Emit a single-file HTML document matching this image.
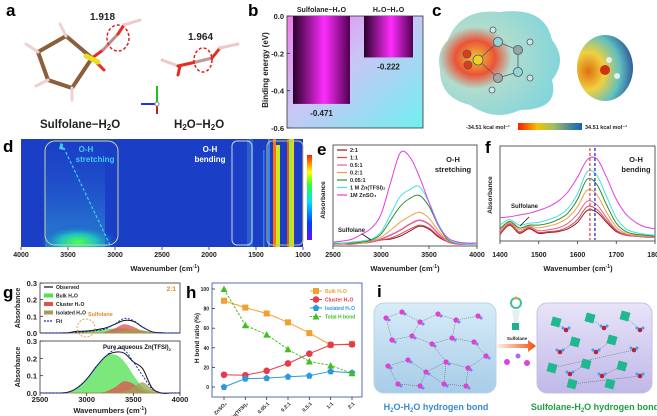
<!DOCTYPE html>
<html><head><meta charset="utf-8"><style>
body{margin:0;background:#fff;}
svg{display:block;font-family:"Liberation Sans",Arial,sans-serif;}
.lab{font-size:17px;font-weight:bold;fill:#000}
</style></head><body>
<svg id="fig" width="657" height="416" viewBox="0 0 657 416" xmlns="http://www.w3.org/2000/svg">
<defs>
<clipPath id="dclip"><rect x="21" y="139" width="282" height="108"/></clipPath>
<linearGradient id="bbg" x1="0" y1="0" x2="1" y2="1"><stop offset="0" stop-color="#f07df0"/><stop offset="0.45" stop-color="#c9c6f5"/><stop offset="1" stop-color="#6ff0f0"/></linearGradient>
<linearGradient id="bar" x1="0" y1="0" x2="1" y2="0"><stop offset="0" stop-color="#2a002a"/><stop offset="0.55" stop-color="#ff2cff"/><stop offset="1" stop-color="#500050"/></linearGradient>
<linearGradient id="cbar" x1="0" y1="0" x2="1" y2="0"><stop offset="0" stop-color="#ff1a00"/><stop offset="0.3" stop-color="#f5c000"/><stop offset="0.55" stop-color="#a0c060"/><stop offset="1" stop-color="#1060c0"/></linearGradient>
<linearGradient id="dbar" x1="0" y1="1" x2="0" y2="0"><stop offset="0" stop-color="#6010ff"/><stop offset="0.2" stop-color="#0040ff"/><stop offset="0.45" stop-color="#00e0ff"/><stop offset="0.65" stop-color="#30ff30"/><stop offset="0.8" stop-color="#ffff00"/><stop offset="1" stop-color="#ff2000"/></linearGradient>
<radialGradient id="blob1" cx="0.3" cy="0.45" r="0.75"><stop offset="0" stop-color="#f0c020"/><stop offset="0.22" stop-color="#e84020"/><stop offset="0.4" stop-color="#a8d8c8"/><stop offset="1" stop-color="#70d0d8"/></radialGradient>
<radialGradient id="blob2" cx="0.2" cy="0.55" r="0.95"><stop offset="0" stop-color="#e07010"/><stop offset="0.3" stop-color="#f0d040"/><stop offset="0.6" stop-color="#60c0c0"/><stop offset="1" stop-color="#102080"/></radialGradient>
<radialGradient id="dhot" cx="0.5" cy="0.5" r="0.5"><stop offset="0" stop-color="#50ff50"/><stop offset="0.45" stop-color="#20c0c0"/><stop offset="1" stop-color="#1a40c8" stop-opacity="0"/></radialGradient>
<linearGradient id="dstr" x1="0" y1="0" x2="0" y2="1"><stop offset="0" stop-color="#2a60d0" stop-opacity="0"/><stop offset="1" stop-color="#30a0d8" stop-opacity="0.7"/></linearGradient>
<linearGradient id="ibox1" x1="0" y1="0" x2="0" y2="1"><stop offset="0" stop-color="#d8ecf8"/><stop offset="1" stop-color="#a8cce8"/></linearGradient>
<linearGradient id="ibox2" x1="0" y1="0" x2="0" y2="1"><stop offset="0" stop-color="#e8e4f8"/><stop offset="1" stop-color="#c0b8e8"/></linearGradient>
<linearGradient id="arrow" x1="0" y1="0" x2="1" y2="0"><stop offset="0" stop-color="#fff0e0"/><stop offset="1" stop-color="#f05010"/></linearGradient>
</defs>

<!-- Panel a -->
<g>
<text class="lab" x="6" y="16">a</text>
<g stroke-linecap="round">
<path d="M38 52 L66 36 L92 58 L72 88 L48 80 Z" fill="none" stroke="#8b5e3c" stroke-width="4"/>
<line x1="92" y1="58" x2="103" y2="50" stroke="#e03020" stroke-width="3"/>
<line x1="92" y1="58" x2="104" y2="70" stroke="#e03020" stroke-width="3"/>
<line x1="86" y1="56" x2="98" y2="62" stroke="#e6e020" stroke-width="5"/>
<line x1="103" y1="50" x2="118" y2="34" stroke="#c08888" stroke-width="3"/>
<line x1="118" y1="34" x2="124" y2="25" stroke="#e03020" stroke-width="3"/>
<line x1="124" y1="25" x2="140" y2="20" stroke="#f0c8c8" stroke-width="3"/>
<line x1="38" y1="52" x2="26" y2="44" stroke="#f0d0d0" stroke-width="3"/>
<line x1="66" y1="36" x2="60" y2="24" stroke="#f0d0d0" stroke-width="3"/>
<line x1="72" y1="88" x2="72" y2="100" stroke="#f0d0d0" stroke-width="3"/>
<line x1="48" y1="80" x2="36" y2="86" stroke="#f0d0d0" stroke-width="3"/>
</g>
<ellipse cx="118" cy="38" rx="11" ry="13" fill="none" stroke="#e02020" stroke-width="1.5" stroke-dasharray="3,2"/>
<text x="90" y="20" font-size="10" font-weight="bold" fill="#222">1.918</text>
<g stroke-linecap="round">
<line x1="162" y1="60" x2="178" y2="66" stroke="#f0c8c8" stroke-width="3"/>
<line x1="178" y1="66" x2="196" y2="62" stroke="#e03020" stroke-width="3"/>
<line x1="180" y1="66" x2="178" y2="75" stroke="#e03020" stroke-width="3"/>
<line x1="196" y1="62" x2="212" y2="58" stroke="#c09898" stroke-width="3"/>
<line x1="212" y1="58" x2="220" y2="48" stroke="#e03020" stroke-width="3"/>
<line x1="220" y1="48" x2="238" y2="44" stroke="#f0c8c8" stroke-width="3"/>
</g>
<ellipse cx="203" cy="60" rx="9" ry="12" fill="none" stroke="#e02020" stroke-width="1.5" stroke-dasharray="3,2"/>
<text x="188" y="40" font-size="10" font-weight="bold" fill="#222">1.964</text>
<g>
<line x1="157" y1="104" x2="157" y2="86" stroke="#20c020" stroke-width="2"/>
<line x1="157" y1="104" x2="141" y2="104" stroke="#2030e0" stroke-width="2"/>
<line x1="157" y1="104" x2="157" y2="114" stroke="#c02020" stroke-width="2"/>
<circle cx="157" cy="104" r="2" fill="#fff" stroke="#888"/>
</g>
<text x="40" y="128" font-size="11.5" font-weight="bold" fill="#222">Sulfolane−H<tspan font-size="8" dy="2">2</tspan><tspan dy="-2">O</tspan></text>
<text x="174" y="128" font-size="11.5" font-weight="bold" fill="#222">H<tspan font-size="8" dy="2">2</tspan><tspan dy="-2">O−H</tspan><tspan font-size="8" dy="2">2</tspan><tspan dy="-2">O</tspan></text>
</g>

<!-- Panel b -->
<g>
<text class="lab" x="248" y="16">b</text>
<rect x="287" y="16" width="136" height="112" fill="url(#bbg)" stroke="#333" stroke-width="0.8"/>
<g id="bchart"></g>
<text x="268" y="70" transform="rotate(-90 268 70)" text-anchor="middle" font-size="8" font-weight="bold" fill="#222">Binding energy (eV)</text>
</g>

<!-- Panel c -->
<g>
<text class="lab" x="432" y="16">c</text>
<path d="M448 40 Q460 8 500 12 Q545 6 552 40 Q568 60 552 80 Q560 110 520 110 Q495 122 470 105 Q440 98 440 70 Q436 52 448 40Z" fill="url(#blob1)" opacity="0.9"/>
<g stroke="#556" stroke-width="0.8">
<line x1="478" y1="60" x2="498" y2="42"/><line x1="498" y1="42" x2="518" y2="50"/><line x1="518" y1="50" x2="518" y2="72"/><line x1="518" y1="72" x2="498" y2="78"/><line x1="498" y1="78" x2="478" y2="60"/>
<circle cx="467" cy="54" r="4" fill="#e83a10"/><circle cx="468" cy="65" r="4" fill="#e83a10"/><circle cx="478" cy="60" r="5" fill="#f0d020"/>
<circle cx="498" cy="42" r="4.5" fill="#8ed8d8"/><circle cx="518" cy="50" r="4.5" fill="#90a8a8"/><circle cx="518" cy="72" r="4.5" fill="#8ed8d8"/><circle cx="498" cy="78" r="4.5" fill="#a0a8a8"/>
<circle cx="493" cy="30" r="3" fill="#c8e8e8"/><circle cx="530" cy="42" r="3" fill="#c8e8e8"/><circle cx="530" cy="78" r="3" fill="#c8e8e8"/><circle cx="492" cy="90" r="3" fill="#c8e8e8"/>
</g>
<ellipse cx="605" cy="68" rx="28" ry="33" fill="url(#blob2)"/>
<circle cx="605" cy="70" r="5" fill="#d03010"/>
<circle cx="609" cy="60" r="3" fill="#e0f0f0"/><circle cx="617" cy="76" r="3" fill="#e0f0f0"/>
<rect x="518" y="123" width="64" height="7" fill="url(#cbar)"/>
<text x="466" y="129" font-size="5.5" font-weight="bold" fill="#222">-34.51 kcal mol⁻¹</text>
<text x="585" y="129" font-size="5.5" font-weight="bold" fill="#222">34.51 kcal mol⁻¹</text>
</g>

<!-- Panel d -->
<g>
<text class="lab" x="3" y="152">d</text>
<rect x="21" y="139" width="282" height="108" fill="#1a3ec6"/>
<g clip-path="url(#dclip)">
<rect x="45" y="139" width="60" height="108" fill="url(#dstr)"/>
<ellipse cx="78" cy="242" rx="42" ry="18" fill="url(#dhot)"/>
<rect x="247" y="139" width="6" height="108" fill="#2f7ad0" opacity="0.6"/>
<g>
<rect x="273" y="139" width="3" height="108" fill="#ff7010"/><rect x="276" y="145" width="4" height="102" fill="#c8e820"/>
<rect x="287" y="139" width="2" height="108" fill="#ff5010"/><rect x="289" y="139" width="3" height="108" fill="#90f040"/><rect x="292" y="139" width="2" height="108" fill="#f0d020"/>
<rect x="268" y="139" width="2" height="108" fill="#50a0ff" opacity="0.7"/>
<rect x="263" y="150" width="1.5" height="97" fill="#40c0ff" opacity="0.5"/>
</g>
</g>
<rect x="45" y="141" width="73" height="104" rx="10" fill="none" stroke="#c8d8a0" stroke-width="1"/>
<rect x="232" y="141" width="20" height="104" rx="5" fill="none" stroke="#c8d8e0" stroke-width="1"/>
<rect x="267" y="141" width="36" height="104" rx="5" fill="none" stroke="#c8c080" stroke-width="1"/>
<line x1="110" y1="245" x2="62" y2="144" stroke="#40d0f0" stroke-width="1.2" stroke-dasharray="3,2"/>
<polygon points="61,142 64,150 59,149" fill="#40d0f0"/>
<text x="86" y="152" text-anchor="middle" font-size="8" font-weight="bold" fill="#40c8f0">O-H</text>
<text x="95" y="162" text-anchor="middle" font-size="8" font-weight="bold" fill="#40c8f0">stretching</text>
<text x="210" y="152" text-anchor="middle" font-size="8" font-weight="bold" fill="#fff">O-H</text>
<text x="210" y="162" text-anchor="middle" font-size="8" font-weight="bold" fill="#fff">bending</text>
<rect x="307" y="155" width="5" height="85" fill="url(#dbar)"/>
<g id="dticks"></g>
<text x="165" y="271" text-anchor="middle" font-size="7.5" font-weight="bold" fill="#222">Wavenumber (cm<tspan font-size="5" dy="-3">-1</tspan><tspan dy="3">)</tspan></text>
</g>

<!-- Panel e -->
<g>
<text class="lab" x="317" y="155">e</text>
<rect x="333" y="145" width="144" height="101" fill="none" stroke="#333" stroke-width="0.8"/>
<g id="echart"></g>
<text x="325" y="200" transform="rotate(-90 325 200)" text-anchor="middle" font-size="6.5" font-weight="bold" fill="#222">Absorbance</text>
<text x="453" y="162" text-anchor="middle" font-size="7.5" font-weight="bold" fill="#222">O-H</text>
<text x="453" y="172" text-anchor="middle" font-size="7.5" font-weight="bold" fill="#222">stretching</text>
<text x="338" y="232" font-size="6" font-weight="bold" fill="#222">Sulfolane</text>
<line x1="362" y1="234" x2="371" y2="240" stroke="#111" stroke-width="0.8"/>
<text x="405" y="271" text-anchor="middle" font-size="7.5" font-weight="bold" fill="#222">Wavenumber (cm<tspan font-size="5" dy="-3">-1</tspan><tspan dy="3">)</tspan></text>
</g>

<!-- Panel f -->
<g>
<text class="lab" x="485" y="153">f</text>
<rect x="500" y="146" width="155" height="95" fill="none" stroke="#333" stroke-width="0.8"/>
<g id="fchart"></g>
<text x="492" y="195" transform="rotate(-90 492 195)" text-anchor="middle" font-size="6.5" font-weight="bold" fill="#222">Absorbance</text>
<text x="636" y="162" text-anchor="middle" font-size="7.5" font-weight="bold" fill="#222">O-H</text>
<text x="636" y="172" text-anchor="middle" font-size="7.5" font-weight="bold" fill="#222">bending</text>
<text x="511" y="208" font-size="6" font-weight="bold" fill="#222">Sulfolane</text>
<line x1="520" y1="226" x2="529" y2="217" stroke="#111" stroke-width="0.8"/>
<text x="578" y="271" text-anchor="middle" font-size="7.5" font-weight="bold" fill="#222">Wavenumber (cm<tspan font-size="5" dy="-3">-1</tspan><tspan dy="3">)</tspan></text>
</g>

<!-- Panel g -->
<g>
<text class="lab" x="3" y="298">g</text>
<rect x="40" y="283" width="140" height="50" fill="none" stroke="#333" stroke-width="0.8"/>
<rect x="40" y="341" width="140" height="52" fill="none" stroke="#333" stroke-width="0.8"/>
<g id="gchart"></g>
<text x="20" y="308" transform="rotate(-90 20 308)" text-anchor="middle" font-size="7" font-weight="bold" fill="#222">Absorbance</text>
<text x="20" y="367" transform="rotate(-90 20 367)" text-anchor="middle" font-size="7" font-weight="bold" fill="#222">Absorbance</text>
<text x="176" y="291" text-anchor="end" font-size="6.5" font-weight="bold" fill="#e08a20">2:1</text>
<text x="88" y="316" font-size="5.5" font-weight="bold" fill="#e08a20">Sulfolane</text>
<circle cx="86" cy="328" r="9" fill="none" stroke="#e08a20" stroke-width="0.8" stroke-dasharray="2,1.5"/>
<text x="103" y="349" font-size="6" font-weight="bold" fill="#111">Pure aqueous Zn(TFSI)<tspan font-size="4" dy="2">2</tspan></text>
<text x="110" y="413" text-anchor="middle" font-size="7.5" font-weight="bold" fill="#222">Wavenumbers (cm<tspan font-size="5" dy="-3">-1</tspan><tspan dy="3">)</tspan></text>
</g>

<!-- Panel h -->
<g>
<text class="lab" x="186" y="298">h</text>
<rect x="212" y="283" width="150" height="114" fill="none" stroke="#2a4aa0" stroke-width="0.8"/>
<g id="hchart"></g>
<text x="199" y="338" transform="rotate(-90 199 338)" text-anchor="middle" font-size="6.5" font-weight="bold" fill="#222">H bond ratio (%)</text>
</g>

<!-- Panel i -->
<g>
<text class="lab" x="377" y="297">i</text>
<rect x="374" y="303" width="122" height="90" rx="10" fill="url(#ibox1)" stroke="#b8d4e8"/>
<g id="inet1"></g>
<polygon points="497,344 528,344 528,340 536,346 528,352 528,348 497,348" fill="url(#arrow)"/>
<text x="517" y="340" text-anchor="middle" font-size="4.5" font-weight="bold" fill="#222">Sulfolane</text>
<g><circle cx="516" cy="303" r="5" fill="none" stroke="#40c0a0" stroke-width="2"/><circle cx="516" cy="298" r="1.5" fill="#f0a020"/><rect x="512" y="323" width="7" height="7" fill="#20b090"/><polygon points="512,310 520,310 518,323 514,323" fill="#e0e8f0" opacity="0.8"/></g>
<circle cx="507" cy="362" r="3" fill="#e040e0"/><circle cx="518" cy="356" r="2.5" fill="#a070f0"/><circle cx="527" cy="363" r="3" fill="#e040e0"/>
<rect x="537" y="303" width="115" height="90" rx="10" fill="url(#ibox2)" stroke="#c8c0e8"/>
<g id="inet2"></g>
<text x="436" y="410" text-anchor="middle" font-size="9" font-weight="bold" fill="#3a8ad0">H<tspan font-size="6" dy="2">2</tspan><tspan dy="-2">O-H</tspan><tspan font-size="6" dy="2">2</tspan><tspan dy="-2">O hydrogen bond</tspan></text>
<text x="595" y="410" text-anchor="middle" font-size="9" font-weight="bold" fill="#20a040">Sulfolane-H<tspan font-size="6" dy="2">2</tspan><tspan dy="-2">O hydrogen bond</tspan></text>
</g>
</svg>
<script>
// ---------- data ----------
const bCategories = ["Sulfolane−H₂O","H₂O−H₂O"];
const bValues = [-0.471,-0.222];
const bTicks = [0.0,-0.2,-0.4,-0.6];

const dTicks = [4000,3500,3000,2500,2000,1500,1000];

const eWaves = [2500,2600,2700,2800,2900,3000,3100,3200,3300,3400,3500,3600,3700,3800,3900,4000];
const eNames = ["2:1","1:1","0.5:1","0.2:1","0.05:1","1 M Zn(TFSI)₂","1M ZnSO₄"];
const eColors = ["#8b1a1a","#d84848","#e0609a","#f0a040","#2e8b2e","#40e0e0","#e040e0"];
const e21 = [0,0,0,0.01,0.02,0.04,0.05,0.08,0.13,0.18,0.15,0.07,0.02,0,0,0];
const e11 = [0,0,0,0.01,0.02,0.04,0.06,0.1,0.15,0.19,0.16,0.08,0.02,0,0,0];
const e051 = [0,0,0,0.01,0.02,0.05,0.09,0.14,0.2,0.24,0.2,0.1,0.02,0,0,0];
const e021 = [0,0,0.01,0.01,0.03,0.07,0.14,0.22,0.28,0.32,0.26,0.13,0.03,0.01,0,0];
const e0051 = [0,0.01,0.01,0.02,0.04,0.1,0.24,0.38,0.46,0.49,0.38,0.18,0.04,0.01,0,0];
const eTFSI = [0.01,0.01,0.02,0.03,0.05,0.12,0.3,0.48,0.55,0.58,0.42,0.2,0.05,0.01,0,0];
const eZnSO4 = [0.02,0.03,0.05,0.1,0.16,0.3,0.62,0.92,0.88,0.68,0.42,0.18,0.06,0.02,0.01,0.01];
const eTicks = [2500,3000,3500,4000];

const fWaves = [1400,1425,1450,1475,1500,1525,1550,1575,1600,1625,1650,1675,1700,1725,1750,1775,1800];
const f21 = [0.04,0.14,0.05,0.1,0.05,0.06,0.07,0.1,0.17,0.3,0.28,0.17,0.07,0.03,0.02,0.01,0.01];
const f11 = [0.05,0.15,0.06,0.11,0.06,0.07,0.08,0.12,0.2,0.34,0.31,0.19,0.08,0.03,0.02,0.01,0.01];
const f051 = [0.06,0.16,0.07,0.12,0.08,0.09,0.11,0.16,0.26,0.4,0.36,0.22,0.09,0.04,0.02,0.01,0.01];
const f021 = [0.08,0.17,0.09,0.13,0.11,0.13,0.16,0.22,0.34,0.52,0.47,0.28,0.12,0.05,0.03,0.02,0.02];
const f0051 = [0.1,0.18,0.11,0.14,0.14,0.16,0.2,0.27,0.42,0.64,0.58,0.36,0.16,0.07,0.04,0.03,0.02];
const fTFSI = [0.14,0.2,0.14,0.16,0.17,0.2,0.24,0.32,0.48,0.72,0.68,0.45,0.22,0.1,0.06,0.04,0.03];
const fZnSO4 = [0.22,0.23,0.25,0.27,0.3,0.34,0.4,0.5,0.66,0.85,0.86,0.66,0.42,0.26,0.17,0.12,0.1];
const fTicks = [1400,1500,1600,1700,1800];

const gWaves = [2500,2600,2700,2800,2900,3000,3100,3200,3300,3400,3500,3600,3700,3800,3900,4000];
const gTopBulk = [0,0,0,0.001,0.004,0.008,0.014,0.02,0.025,0.025,0.02,0.012,0.004,0.001,0,0];
const gTopCluster = [0,0,0,0,0,0,0,0.004,0.025,0.05,0.035,0.01,0,0,0,0];
const gTopIsolated = [0,0,0,0,0,0,0,0,0.003,0.012,0.02,0.014,0.003,0,0,0];
const gTopObserved = [0,0,0,0.002,0.01,0.012,0.02,0.03,0.052,0.075,0.07,0.035,0.008,0.001,0,0];
const gBotBulk = [0,0,0,0.005,0.03,0.08,0.15,0.205,0.22,0.18,0.1,0.03,0.005,0,0,0];
const gBotCluster = [0,0,0,0,0,0,0,0.005,0.03,0.065,0.05,0.01,0,0,0,0];
const gBotIsolated = [0,0,0,0,0,0,0,0,0,0.005,0.03,0.06,0.02,0,0,0];
const gBotObserved = [0,0,0,0.005,0.03,0.08,0.15,0.21,0.235,0.23,0.18,0.14,0.03,0,0,0];
const gTicksX = [2500,3000,3500,4000];
const gTicksY = [0.0,0.1,0.2,0.3];

const hCategories = ["ZnSO₄","Zn(TFSI)₂","0.05:1","0.2:1","0.5:1","1:1","2:1"];
const hBulk = [88,81,75,66,55,43,44];
const hCluster = [12.5,12,16.5,24,34,43,43.5];
const hIsolated = [0,8.5,9,10.5,11.5,16,14.5];
const hTotal = [100,63,53.5,38.5,26,22,14];
const hTicks = [0,20,40,60,80,100];

// ---------- helpers ----------
const NS="http://www.w3.org/2000/svg";
function mk(parent,tag,attrs){const el=document.createElementNS(NS,tag);for(const k in attrs)el.setAttribute(k,attrs[k]);parent.appendChild(el);return el;}
function lin(d0,d1,r0,r1){return v=>r0+(v-d0)/(d1-d0)*(r1-r0);}
function smooth(xs,ys){let d="M"+xs[0].toFixed(1)+","+ys[0].toFixed(1);for(let i=0;i<xs.length-1;i++){const x0=xs[Math.max(i-1,0)],y0=ys[Math.max(i-1,0)],x1=xs[i],y1=ys[i],x2=xs[i+1],y2=ys[i+1],x3=xs[Math.min(i+2,xs.length-1)],y3=ys[Math.min(i+2,xs.length-1)];d+=" C"+(x1+(x2-x0)/6).toFixed(1)+","+(y1+(y2-y0)/6).toFixed(1)+" "+(x2-(x3-x1)/6).toFixed(1)+","+(y2-(y3-y1)/6).toFixed(1)+" "+x2.toFixed(1)+","+y2.toFixed(1);}return d;}
function txt(parent,x,y,s,attrs){const t=mk(parent,"text",Object.assign({x:x,y:y},attrs||{}));t.textContent=s;return t;}

// ---------- panel b ----------
(function(){const g=document.getElementById("bchart");const y=lin(0,-0.6,16,128);const bx=[293,364],bw=[57,49];
bValues.forEach((v,i)=>{const r=mk(g,"rect",{x:bx[i],y:y(0),width:bw[i],height:y(v)-y(0),fill:"url(#bar)"});


const t=txt(g,bx[i]+bw[i]/2,y(v)+12,v.toFixed(3),{"text-anchor":"middle","font-size":"8","font-weight":"bold",fill:"#222"});


const c=txt(g,bx[i]+bw[i]/2,12,bCategories[i],{"text-anchor":"middle","font-size":"7","font-weight":"bold",fill:"#222"});

});
bTicks.forEach(v=>{mk(g,"line",{x1:287,x2:290,y1:y(v),y2:y(v),stroke:"#333","stroke-width":0.8});
const t=txt(g,284,y(v)+3,v.toFixed(1),{"text-anchor":"end","font-size":"7.5","font-weight":"bold",fill:"#222"});

});})();

// ---------- panel d ticks ----------
(function(){const g=document.getElementById("dticks");const x=lin(4000,1000,21,303);
dTicks.forEach(v=>{mk(g,"line",{x1:x(v),x2:x(v),y1:247,y2:250,stroke:"#333","stroke-width":0.8});
const t=txt(g,x(v),257,String(v),{"text-anchor":"middle","font-size":"7","font-weight":"bold",fill:"#222"});

});})();

// ---------- panel e ----------
(function(){const g=document.getElementById("echart");const x=lin(2500,4000,333,477),y=lin(0,1,244,145);
const series=[e21,e11,e051,e021,e0051,eTFSI,eZnSO4];
series.forEach((s,i)=>{const p=mk(g,"path",{d:smooth(eWaves.map(x),s.map(y)),fill:"none",stroke:eColors[i],"stroke-width":i==2?1.5:1});


const ly=150+i*7.5;mk(g,"line",{x1:337,x2:347,y1:ly,y2:ly,stroke:eColors[i],"stroke-width":1.2});
const t=txt(g,350,ly+2,eNames[i],{"font-size":"5.5","font-weight":"bold",fill:"#222"});

});
eTicks.forEach(v=>{mk(g,"line",{x1:x(v),x2:x(v),y1:246,y2:249,stroke:"#333","stroke-width":0.8});
const t=txt(g,x(v),257,String(v),{"text-anchor":"middle","font-size":"7","font-weight":"bold",fill:"#222"});

});})();

// ---------- panel f ----------
(function(){const g=document.getElementById("fchart");const x=lin(1400,1800,500,655),y=lin(0,1,238,146);
const series=[f21,f11,f051,f021,f0051,fTFSI,fZnSO4];
series.forEach((s,i)=>{const p=mk(g,"path",{d:smooth(fWaves.map(x),s.map(y)),fill:"none",stroke:eColors[i],"stroke-width":1});

});
mk(g,"line",{x1:x(1632),x2:x(1632),y1:148,y2:240,stroke:"#e05050","stroke-width":1.3,"stroke-dasharray":"3,2"});
mk(g,"line",{x1:x(1645),x2:x(1645),y1:148,y2:240,stroke:"#2030c0","stroke-width":1.3,"stroke-dasharray":"3,2"});
fTicks.forEach(v=>{mk(g,"line",{x1:x(v),x2:x(v),y1:241,y2:244,stroke:"#333","stroke-width":0.8});
const t=txt(g,x(v),257,String(v),{"text-anchor":"middle","font-size":"7","font-weight":"bold",fill:"#222"});

});})();

// ---------- panel g ----------
(function(){const g=document.getElementById("gchart");const x=lin(2500,4000,40,180);
function draw(y,bulk,cl,iso,obs,tag){
 const base=y(0);
 [[bulk,"#50e050"],[cl,"#e05050"],[iso,"#a0a050"]].forEach((s,i)=>{const d=smooth(gWaves.map(x),s[0].map(y))+" L180,"+base+" L40,"+base+" Z";
 const p=mk(g,"path",{d:d,fill:s[1],"fill-opacity":0.75,stroke:s[1],"stroke-width":0.5});
 
 });
 const fit=bulk.map((v,i)=>v+cl[i]+iso[i]);
 const o=mk(g,"path",{d:smooth(gWaves.map(x),obs.map(y)),fill:"none",stroke:"#111","stroke-width":1});
 
 
 const f=mk(g,"path",{d:smooth(gWaves.map(x),fit.map(y)),fill:"none",stroke:"#2030c0","stroke-width":1,"stroke-dasharray":"2,1.5"});
 
 
 gTicksY.forEach(v=>{mk(g,"line",{x1:40,x2:43,y1:y(v),y2:y(v),stroke:"#333","stroke-width":0.8});
 const t=txt(g,37,y(v)+3,v.toFixed(1),{"text-anchor":"end","font-size":"7.5","font-weight":"bold",fill:"#222"});
 
 });}
draw(lin(0,0.3,333,283),gTopBulk,gTopCluster,gTopIsolated,gTopObserved,"g-top");
draw(lin(0,0.3,393,341),gBotBulk,gBotCluster,gBotIsolated,gBotObserved,"g-bottom");
const leg=[["Observed","#111","l"],["Bulk H₂O","#50e050","r"],["Cluster H₂O","#e05050","r"],["Isolated H₂O","#a0a050","r"],["Fit","#2030c0","d"]];
leg.forEach((L,i)=>{const ly=287+i*8.5;if(L[2]=="r")mk(g,"rect",{x:44,y:ly-2,width:9,height:4,fill:L[1]});else mk(g,"line",{x1:44,x2:53,y1:ly,y2:ly,stroke:L[1],"stroke-width":1.2,"stroke-dasharray":L[2]=="d"?"2,1":"none"});
const t=txt(g,56,ly+2,L[0],{"font-size":"5","font-weight":"bold",fill:"#222"});

});
gTicksX.forEach(v=>{mk(g,"line",{x1:x(v),x2:x(v),y1:393,y2:396,stroke:"#333","stroke-width":0.8});
const t=txt(g,x(v),402,String(v),{"text-anchor":"middle","font-size":"7.5","font-weight":"bold",fill:"#222"});

});})();

// ---------- panel h ----------
(function(){const g=document.getElementById("hchart");const y=lin(0,100,387,289);const x=i=>224+i*(352-224)/(hCategories.length-1);
const series=[[hBulk,"#f0a030","sq",false,"Bulk H₂O"],[hCluster,"#e83a4a","ci",false,"Cluster H₂O"],[hIsolated,"#2a9ae0","st",false,"Isolated H₂O"],[hTotal,"#40c020","tr",true,"Total H bond"]];
hTicks.forEach(v=>{mk(g,"line",{x1:212,x2:215,y1:y(v),y2:y(v),stroke:"#333","stroke-width":0.8});
const t=txt(g,209,y(v)+2,String(v),{"text-anchor":"end","font-size":"5","font-weight":"bold",fill:"#222"});

});
function marker(px,py,shape,col){if(shape=="sq")return mk(g,"rect",{x:px-3,y:py-3,width:6,height:6,fill:col});
if(shape=="ci")return mk(g,"circle",{cx:px,cy:py,r:3.3,fill:col});
if(shape=="tr")return mk(g,"polygon",{points:`${px},${py-3.5} ${px+3.5},${py+3} ${px-3.5},${py+3}`,fill:col});
return mk(g,"polygon",{points:`${px},${py-3.5} ${px+3.3},${py-1} ${px+2},${py+3} ${px-2},${py+3} ${px-3.3},${py-1}`,fill:col});}
series.forEach((s,si)=>{const pts=s[0].map((v,i)=>x(i)+","+y(v)).join(" ");
const l=mk(g,"polyline",{points:pts,fill:"none",stroke:s[1],"stroke-width":1,"stroke-dasharray":s[3]?"2.5,1.5":"none"});


s[0].forEach((v,i)=>{const m=marker(x(i),y(v),s[2],s[1]);

});
const ly=291+si*8.5;mk(g,"line",{x1:310,x2:322,y1:ly,y2:ly,stroke:s[1],"stroke-width":1,"stroke-dasharray":s[3]?"2,1":"none"});marker(316,ly,s[2],s[1]);
const t=txt(g,325,ly+2,s[4],{"font-size":"5","font-weight":"bold",fill:s[1]});

});
hCategories.forEach((c,i)=>{mk(g,"line",{x1:x(i),x2:x(i),y1:397,y2:400,stroke:"#333","stroke-width":0.8});
const t=txt(g,x(i)+3,404,c,{"text-anchor":"end","font-size":"5","font-weight":"bold",fill:"#222",transform:`rotate(-45 ${x(i)+3} 404)`});

});})();

// ---------- panel i networks (decorative) ----------
(function(){const g1=document.getElementById("inet1");
const n1=[[386,318],[402,312],[420,322],[438,314],[456,320],[478,316],[392,340],[412,336],[432,344],[452,338],[474,342],[388,366],[408,360],[426,372],[446,362],[468,368],[486,356],[398,384],[420,386],[444,384],[466,386]];
for(let i=0;i<n1.length;i++)for(let j=i+1;j<n1.length;j++){const dx=n1[i][0]-n1[j][0],dy=n1[i][1]-n1[j][1];if(dx*dx+dy*dy<560)mk(g1,"line",{x1:n1[i][0],y1:n1[i][1],x2:n1[j][0],y2:n1[j][1],stroke:"#333","stroke-width":0.4,"stroke-dasharray":"1,1"});}
n1.forEach(p=>{mk(g1,"circle",{cx:p[0],cy:p[1],r:2.6,fill:"#e040d0"});mk(g1,"circle",{cx:p[0]+3,cy:p[1]+2,r:1.5,fill:"#8080f0"});});
const g2=document.getElementById("inet2");
const sq=[[556,322],[590,318],[625,316],[575,342],[612,340],[552,368],[586,364],[622,366],[572,384],[610,384]];
const ox=[[566,330],[604,328],[640,330],[560,352],[596,352],[634,350],[570,374],[602,376],[640,376]];
sq.forEach((p,i)=>{if(i<sq.length-1)mk(g2,"line",{x1:p[0],y1:p[1],x2:ox[Math.min(i,ox.length-1)][0],y2:ox[Math.min(i,ox.length-1)][1],stroke:"#333","stroke-width":0.4,"stroke-dasharray":"1,1"});});
sq.forEach(p=>mk(g2,"rect",{x:p[0]-4.5,y:p[1]-4.5,width:9,height:9,fill:"#20b890",transform:`rotate(15 ${p[0]} ${p[1]})`}));
ox.forEach(p=>{mk(g2,"circle",{cx:p[0],cy:p[1],r:2.3,fill:"#c02030"});mk(g2,"circle",{cx:p[0]-3,cy:p[1]-2,r:1.5,fill:"#40a0f0"});mk(g2,"circle",{cx:p[0]+3,cy:p[1]-2,r:1.5,fill:"#40a0f0"});});})();
</script>
</body></html>
